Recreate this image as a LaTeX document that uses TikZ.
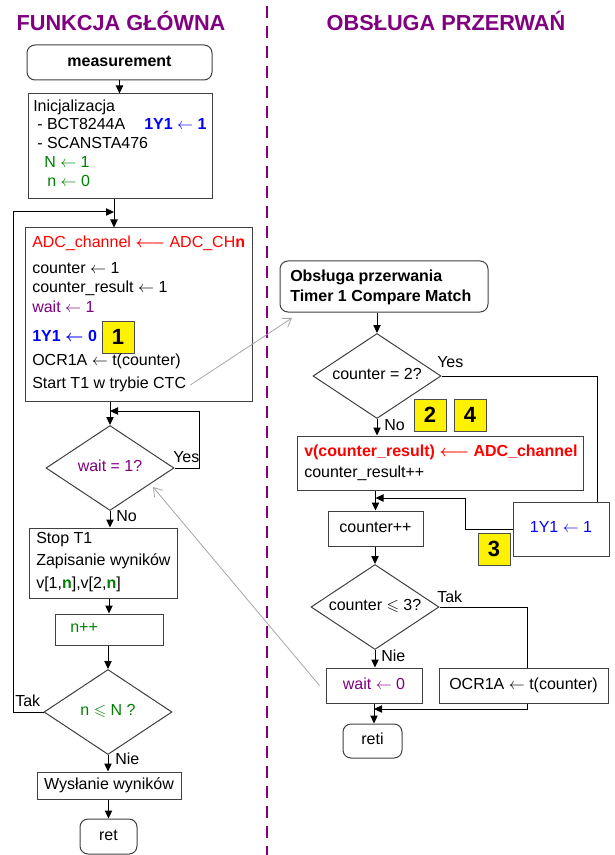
\documentclass[tikz,border=0pt]{standalone}
\usepackage{fontspec}
\setmainfont{Liberation Sans}
\usepackage{amssymb}
\usetikzlibrary{shapes.geometric,arrows.meta,fit}

\definecolor{tpurple}{RGB}{128,0,128}
\definecolor{tred}{RGB}{255,0,0}
\definecolor{tblue}{RGB}{0,0,255}
\definecolor{tgreen}{RGB}{0,128,0}
\definecolor{tline}{RGB}{64,64,64}

\newcommand{\asg}{\ensuremath{\leftarrow}}

\tikzset{
  every node/.style={inner sep=0pt, font=\fontsize{12}{14}\selectfont},
  box/.style={draw=tline, line width=0.75pt, inner sep=0pt},
  rbox/.style={box, rounded corners=6pt},
  dec/.style={diamond, draw=tline, line width=0.75pt, aspect=1.5, minimum width=96pt, minimum height=63.75pt},
  txt/.style={anchor=west, text height=8pt, text depth=2.2pt},
  ctxt/.style={text height=8pt, text depth=2.2pt},
  yes/.style={anchor=west, text height=8pt, text depth=2.2pt},
  tagbox/.style={draw=black!70, fill=yellow, line width=0.6pt, minimum width=24pt, minimum height=24pt, font=\fontsize{16.5}{18}\selectfont\bfseries},
  arr/.style={draw=black, line width=0.75pt, -{Triangle[length=6pt,width=5.5pt]}},
  link/.style={draw=black, line width=0.75pt},
  note/.style={draw=black!35, line width=0.6pt, -{Straight Barb[length=6pt,width=8pt]}},
  title/.style={anchor=base, text=tpurple, font=\fontsize{16.3}{18}\selectfont\bfseries}
}

\begin{document}
\begin{tikzpicture}[x=0.75pt,y=-0.75pt]
\useasboundingbox (0,0) rectangle (614,855);

\node[title] (tmain) at (121,31) {FUNKCJA GŁÓWNA};
\node[title] (tisr) at (446,31) {OBSŁUGA PRZERWAŃ};
\draw[tpurple, line width=1.5pt, dash pattern=on 9pt off 6pt] (267,6) -- (267,855);

% funkcja glowna
\node[rbox, fit={(27,45) (212,80)}] (meas) {};
\node[ctxt, font=\fontsize{12}{14}\selectfont\bfseries] (meast) at (meas.center) {measurement};

\node[box, fit={(28,94) (212,199)}] (init) {};
\node[txt] (i1) at (33,108) {Inicjalizacja};
\node[txt] (i2) at (37,126) {- BCT8244A};
\node[txt, text=tblue, font=\fontsize{12}{14}\selectfont\bfseries] (i3) at (144,126) {1Y1 \asg\ 1};
\node[txt] (i4) at (37,145) {- SCANSTA476};
\node[txt, text=tgreen] (i5) at (44,164) {N \asg\ 1};
\node[txt, text=tgreen] (i6) at (47,183) {n \asg\ 0};

\node[box, fit={(25,228) (252,401)}] (adc) {};
\node[txt, text=tred] (a1) at (32,244) {ADC\_channel {\boldmath$\longleftarrow$} ADC\_CH\textbf{n}};
\node[txt] (a2) at (32,270) {counter \asg\ 1};
\node[txt] (a3) at (32,289) {counter\_result \asg\ 1};
\node[txt, text=tpurple] (a4) at (32,309) {wait \asg\ 1};
\node[txt, text=tblue, font=\fontsize{12}{14}\selectfont\bfseries] (a5) at (32,338) {1Y1 {\boldmath$\leftarrow$} 0};
\node[tagbox] (m1) at (118,337) {1};
\node[txt] (a6) at (32,362) {OCR1A \asg\ t(counter)};
\node[txt] (a7) at (32,385) {Start T1 w trybie CTC};

\node[dec] (qwait) at (110,468) {};
\node[ctxt, text=tpurple] (qwaitt) at (qwait.center) {wait = 1?};

\node[box, fit={(29,528) (177,598)}] (stop) {};
\node[txt] (s1) at (36,540) {Stop T1};
\node[txt] (s2) at (36,562) {Zapisanie wyników};
\node[txt] (s3) at (36,585) {v[1,\textcolor{tgreen}{\textbf{n}}],v[2,\textcolor{tgreen}{\textbf{n}}]};

\node[box, fit={(55,614) (163,645)}] (ninc) {};
\node[txt, text=tgreen] (ninct) at (70,629) {n++};

\node[dec] (qn) at (108,712) {};
\node[ctxt, text=tgreen] (qnt) at (qn.center) {n $\leqslant$ N ?};

\node[box, fit={(37,772) (181,799)}] (send) {};
\node[ctxt] (sendt) at (send.center) {Wysłanie wyników};
\node[rbox, fit={(80,819) (137,854)}] (ret) {};
\node[ctxt] (rett) at (ret.center) {ret};

\node[yes] (lyes1) at (173,459) {Yes};
\node[yes] (lno1) at (116,518) {No};
\node[yes] (ltak1) at (15,703) {Tak};
\node[yes] (lnie1) at (115,761) {Nie};

\coordinate (jtop) at (114,212);
\coordinate (lcorner) at (13,212);
\coordinate (wcorner) at (199,411);

\draw[arr] (meas.south) -- (meas.south |- init.north);
\draw[link] (init.south -| jtop) -- (jtop);
\draw[arr] (jtop) -- (jtop |- adc.north);
\draw[arr] (adc.south -| qwait.north) -- (qwait.north);
\draw[arr] (qwait.east) -| (wcorner) -- (wcorner -| qwait.north);
\draw[arr] (qwait.south) -- (qwait.south |- stop.north);
\draw[arr] (stop.south -| ninc.north) -- (ninc.north);
\draw[arr] (ninc.south -| qn.north) -- (qn.north);
\draw[arr] (qn.west) -| (lcorner) -- (jtop);
\draw[arr] (qn.south) -- (qn.south |- send.north);
\draw[arr] (send.south -| ret.north) -- (ret.north);

% obsluga przerwania
\node[rbox, fit={(280,261) (488,312)}] (isr) {};
\node[txt, font=\fontsize{12}{14}\selectfont\bfseries] (r1) at (290,278) {Obsługa przerwania};
\node[txt, font=\fontsize{12}{14}\selectfont\bfseries] (r2) at (290,298) {Timer 1 Compare Match};

\node[dec] (q2) at (377,376) {};
\node[ctxt] (q2t) at (q2.center) {counter = 2?};
\node[tagbox] (m2) at (430,415) {2};
\node[tagbox] (m4) at (470,415) {4};

\node[box, fit={(297,436) (583,490)}] (vres) {};
\node[txt, text=tred, font=\fontsize{12}{14}\selectfont\bfseries] (v1) at (304,453) {v(counter\_result) {\boldmath$\longleftarrow$} ADC\_channel};
\node[txt] (v2) at (304,474) {counter\_result++};

\node[box, fit={(513,502) (609,556)}] (y1) {};
\node[ctxt, text=tblue] (y1t) at (y1.center) {1Y1 \asg\ 1};
\node[tagbox] (m3) at (494,549) {3};

\node[box, fit={(328,511) (423,546)}] (cinc) {};
\node[ctxt] (cinct) at (cinc.center) {counter++};

\node[dec] (q3) at (375,607) {};
\node[ctxt] (q3t) at (q3.center) {counter $\leqslant$ 3?};

\node[box, fit={(326,668) (422,703)}] (wz) {};
\node[ctxt, text=tpurple] (wzt) at (wz.center) {wait \asg\ 0};
\node[box, fit={(439,668) (608,703)}] (ocr) {};
\node[ctxt] (ocrt) at (ocr.center) {OCR1A \asg\ t(counter)};
\node[rbox, fit={(343,724) (402,758)}] (reti) {};
\node[ctxt] (retit) at (reti.center) {reti};

\node[yes] (lyes2) at (437,364) {Yes};
\node[yes] (lno2) at (384,427) {No};
\node[yes] (ltak2) at (437,599) {Tak};
\node[yes] (lnie2) at (381,658) {Nie};

\coordinate (ycorner) at (597,376);
\coordinate (ybend) at (465,498);
\coordinate (tcorner) at (527,607);
\coordinate (bcorner) at (527,709);

\draw[arr] (isr.south -| q2.north) -- (q2.north);
\draw[link] (q2.east) -- (ycorner) -- (ycorner |- y1.north);
\draw[arr] (q2.south) -- (q2.south |- vres.north);
\draw[arr] (vres.south -| cinc.north) -- (cinc.north);
\draw[arr] (y1.west) -| (ybend) -- (ybend -| cinc.north);
\draw[arr] (cinc.south -| q3.north) -- (q3.north);
\draw[link] (q3.east) -- (tcorner) -- (tcorner |- ocr.north);
\draw[arr] (q3.south) -- (q3.south |- wz.north);
\draw[arr] (wz.south) -- (wz.south |- reti.north);
\draw[arr] (tcorner |- ocr.south) -- (bcorner) -- (bcorner -| wz.south);

% powiazania
\coordinate (gisr) at (292,318);
\coordinate (gwait) at (153,487);
\draw[note] ([xshift=3pt]a7.east) -- (gisr);
\draw[note] ([xshift=-4.5pt]wz.west) -- (gwait);
\end{tikzpicture}
\end{document}
